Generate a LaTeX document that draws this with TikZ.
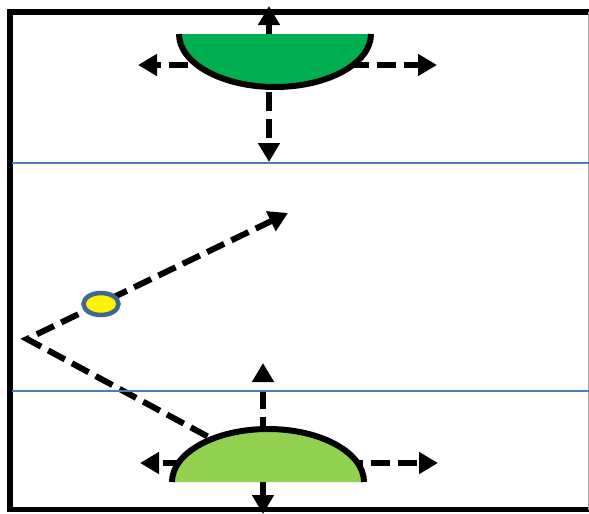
\documentclass[tikz,border=0pt]{standalone}
\usetikzlibrary{arrows.meta,shapes.geometric}
\definecolor{topgreen}{HTML}{00B050}
\definecolor{botgreen}{HTML}{92D050}
\definecolor{bandblue}{HTML}{4A7EBB}
\definecolor{ringblue}{HTML}{3F6594}
\definecolor{framegray}{HTML}{A6A6A6}
\begin{document}
\begin{tikzpicture}[x=1pt,y=-1pt,
  flow/.style={line width=6pt, dash pattern=on 19pt off 8pt, -{Triangle[width=21pt,length=19pt]}},
  solidflow/.style={line width=6pt, -{Triangle[width=21pt,length=19pt]}},
  frame/.style={line width=5.5pt, line join=miter},
  band/.style={bandblue, line width=2.6pt},
  rim/.style={line width=6pt},
  vpath/.style={line width=6pt, line join=miter, dash pattern=on 19pt off 8pt, -{Triangle[width=21pt,length=19pt]}},
]
\useasboundingbox (0,0) rectangle (589,514);
% frame
\draw[frame] (589,12) -- (10,12) -- (10,509.5) -- (589,509.5);
\draw[framegray, line width=1pt] (588,12) -- (588,509.5);
% centres and tips
\coordinate (tc) at (269,65);
\coordinate (tU) at (269,6);
\coordinate (tL) at (138,65);
\coordinate (tR) at (437,65);
\coordinate (tD) at (269,162);
\coordinate (bc) at (263,463);
\coordinate (bU) at (263,363);
\coordinate (bL) at (140,463);
\coordinate (bR) at (438,463);
\coordinate (bD) at (263,514);
\coordinate (vstart) at (255,462);
\coordinate (vtip) at (27,339);
\coordinate (vend) at (288,213);
% top arrows
\draw[solidflow] (tc) -- (tU);
\draw[flow] (tc) -- (tL);
\draw[flow] (tc) -- (tR);
\draw[flow] (tc) -- (tD);
% bottom arrows
\draw[flow] (bc) -- (bU);
\draw[flow] (bc) -- (bL);
\draw[flow] (bc) -- (bR);
\draw[solidflow] (bc) -- (bD);
% V path
\draw[vpath] (vstart) -- (vtip) -- (vend);
% top shape
\fill[topgreen] (179,34) arc[start angle=180, end angle=360, x radius=96pt, y radius=53pt] -- cycle;
\draw[rim] (179,34) arc[start angle=180, end angle=360, x radius=96pt, y radius=53pt];
% bottom shape
\fill[botgreen] (172,482) arc[start angle=180, end angle=0, x radius=96pt, y radius=53pt] -- cycle;
\draw[rim] (172,482) arc[start angle=180, end angle=0, x radius=96pt, y radius=53pt];
% particle
\node[draw=ringblue, fill=yellow, line width=4.5pt, ellipse, minimum width=35pt, minimum height=22pt, inner sep=0pt] (ball) at (101,304) {};
% bands
\draw[band] (12,163) -- (589,163);
\draw[band] (12,391) -- (589,391);
\end{tikzpicture}
\end{document}
